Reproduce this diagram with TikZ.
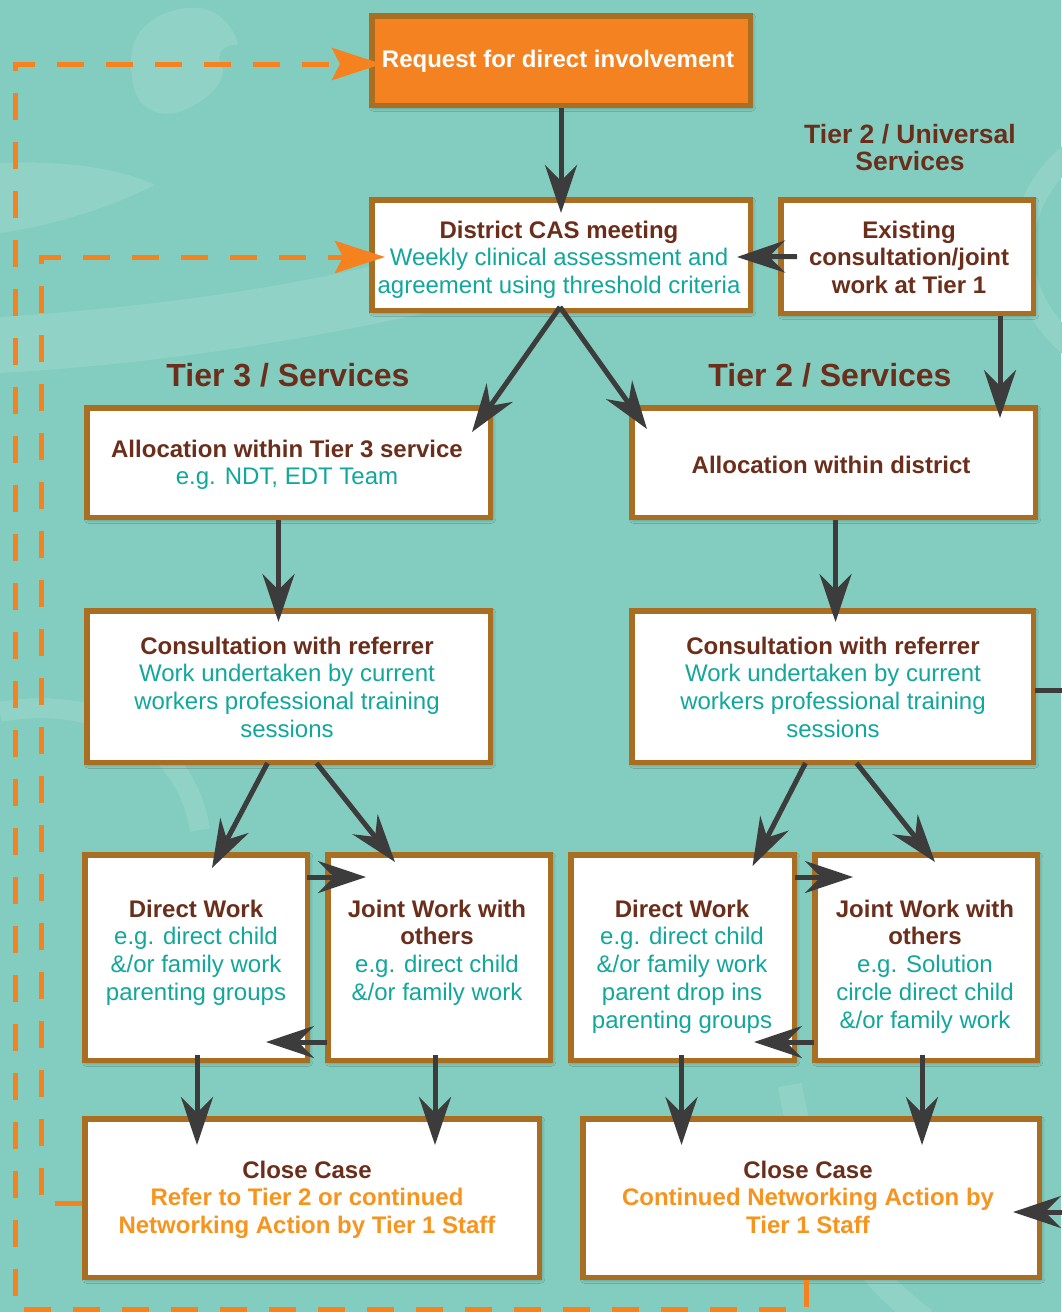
\documentclass[tikz,border=0pt]{standalone}
\usepackage{fontspec}
\setmainfont{Liberation Sans}
\usetikzlibrary{arrows.meta,calc,shadows.blur}

\definecolor{bg}{HTML}{82CDBF}
\definecolor{swirl}{HTML}{91D2C6}
\definecolor{bord}{HTML}{A96E22}
\definecolor{reqfill}{HTML}{F58220}
\definecolor{brn}{HTML}{6B2E1B}
\definecolor{tealtx}{HTML}{12A79B}
\definecolor{orgtx}{HTML}{F7941E}
\definecolor{arrgray}{HTML}{3C3C3C}
\definecolor{dashorg}{HTML}{F5821F}

% text helpers: bold brown heading line, teal detail line, orange bold line
\newcommand\bhd[1]{{\bfseries\color{brn}#1}}
\newcommand\tltx[1]{{\color{tealtx}#1}}
\newcommand\ortx[1]{{\bfseries\color{orgtx}#1}}
% \mkbox[style]{x1}{y1}{x2}{y2}{name}: box by its outer edges
\newcommand\mkbox[6][]{\node[box,#1,minimum width={(#4-#2-5.5)*1pt},minimum height={(#5-#3-5.5)*1pt}] (#6) at ({(#2+#4)/2},{(#3+#5)/2}) {};}

\begin{document}
\begin{tikzpicture}[x=1pt,y=-1pt,
  box/.style={draw=bord,fill=white,line width=5.5pt,inner sep=0pt,
    blur shadow={shadow xshift=1.5pt,shadow yshift=-2pt,shadow blur radius=4pt,shadow opacity=40}},
  % text blocks are placed by the baseline of their last line
  txt/.style={inner sep=0pt,align=center,font=\fontsize{24}{27.8}\selectfont,anchor=base},
  tierhead/.style={inner sep=0pt,align=center,anchor=base,text=brn,font=\fontsize{32}{36}\selectfont\bfseries},
  arr/.style={draw=arrgray,line width=5pt,-{Stealth[length=48pt,width=32pt,inset=16pt]}},
  link/.style={draw=arrgray,line width=5pt},
  dashlink/.style={draw=dashorg,line width=5pt,dash pattern=on 27pt off 22pt},
  dasharr/.style={dashlink,-{Stealth[length=50pt,width=32pt,inset=8pt]}},
  swirlfill/.style={fill=swirl}
]
\useasboundingbox (0,0) rectangle (1061,1312);
\fill[bg] (0,0) rectangle (1061,1312);

% faint background swirls
\fill[swirlfill] (131,62) .. controls (131,22) and (168,6) .. (200,8)
  .. controls (222,11) and (236,32) .. (238,45)
  .. controls (224,43) and (214,55) .. (222,66)
  .. controls (228,78) and (210,102) .. (176,113)
  .. controls (142,118) and (131,95) .. (131,62) -- cycle;
\fill[swirlfill] (0,163) .. controls (60,160) and (120,168) .. (155,185)
  .. controls (110,208) and (50,226) .. (0,233) -- cycle;
\fill[swirlfill] (0,317) .. controls (180,305) and (330,282) .. (480,238)
  -- (480,300) .. controls (380,325) and (200,362) .. (0,373) -- cycle;
\draw[swirl,line width=22pt] (1075,150) .. controls (1010,200) and (1000,290) .. (1075,350);
\draw[swirl,line width=20pt] (0,712) .. controls (90,695) and (185,735) .. (200,830);
\draw[swirl,line width=24pt] (790,1085) .. controls (805,1180) and (850,1265) .. (925,1320);

% boxes
\mkbox[fill=reqfill]{369}{13}{753}{108}{req}
\mkbox{369}{197}{753}{313}{cas}
\mkbox{778}{197}{1036}{316}{exist}
\mkbox{84}{405}{493}{520}{atier}
\mkbox{629}{405}{1038}{520}{adist}
\mkbox{84}{608}{493}{765}{conL}
\mkbox{629}{608}{1036}{765}{conR}
\mkbox{82}{852}{310}{1063}{dwL}
\mkbox{325}{852}{553}{1063}{jwL}
\mkbox{568}{852}{797}{1063}{dwR}
\mkbox{812}{852}{1040}{1063}{jwR}
\mkbox{82}{1116}{542}{1280}{clL}
\mkbox{580}{1116}{1042}{1280}{clR}

% box texts
\node[txt,font=\fontsize{24}{27.8}\selectfont\bfseries,text=white] (treq) at (558,67) {Request for direct involvement};
\node[txt] (tcas) at (559,293.6) {\bhd{District CAS meeting}\\\tltx{Weekly clinical assessment and}\\\tltx{agreement using threshold criteria}};
\node[txt] (texist) at (909,293.6) {\bhd{Existing}\\\bhd{consultation/joint}\\\bhd{work at Tier 1}};
\node[txt] (tatier) at (287,484.8) {\bhd{Allocation within Tier 3 service}\\\tltx{e.g. NDT, EDT Team}};
\node[txt] (tadist) at (831,473) {\bhd{Allocation within district}};
\node[txt] (tconL) at (287,737.4) {\bhd{Consultation with referrer}\\\tltx{Work undertaken by current}\\\tltx{workers professional training}\\\tltx{sessions}};
\node[txt] (tconR) at (833,737.4) {\bhd{Consultation with referrer}\\\tltx{Work undertaken by current}\\\tltx{workers professional training}\\\tltx{sessions}};
\node[txt] (tdwL) at (196,1000.4) {\bhd{Direct Work}\\\tltx{e.g. direct child}\\\tltx{\&/or family work}\\\tltx{parenting groups}};
\node[txt] (tjwL) at (437,1000.4) {\bhd{Joint Work with}\\\bhd{others}\\\tltx{e.g. direct child}\\\tltx{\&/or family work}};
\node[txt] (tdwR) at (682,1028.2) {\bhd{Direct Work}\\\tltx{e.g. direct child}\\\tltx{\&/or family work}\\\tltx{parent drop ins}\\\tltx{parenting groups}};
\node[txt] (tjwR) at (925,1028.2) {\bhd{Joint Work with}\\\bhd{others}\\\tltx{e.g. Solution}\\\tltx{circle direct child}\\\tltx{\&/or family work}};
\node[txt] (tclL) at (307,1233.6) {\bhd{Close Case}\\\ortx{Refer to Tier 2 or continued}\\\ortx{Networking Action by Tier 1 Staff}};
\node[txt] (tclR) at (808,1233.6) {\bhd{Close Case}\\\ortx{Continued Networking Action by}\\\ortx{Tier 1 Staff}};

% tier headings
\node[tierhead] (h3) at (288,386.5) {Tier 3 / Services};
\node[tierhead] (h2) at (830,386.5) {Tier 2 / Services};
\node[tierhead,font=\fontsize{26.5}{27.4}\selectfont\bfseries] (h2u) at (910,170.7) {Tier 2 / Universal\\Services};

% solid connectors
\draw[arr] (req.south) -- ($(cas.north)+(0,16)$);
\draw[arr] ($(exist.west)+(19,0)$) -- ($(cas.east)+(-16,2)$);
\draw[arr] ($(cas.south)+(-1,-6)$) -- ($(atier.north east)+(-21,27)$);
\draw[arr] ($(cas.south)+(-1,-6)$) -- ($(adist.north west)+(18,24)$);
\draw[arr] ($(exist.south)+(93,0)$) -- ($(exist.south |- adist.north)+(93,13)$);
\draw[arr] ($(atier.south)+(-10,0)$) -- ($(atier.south |- conL.north)+(-10,14)$);
\draw[arr] ($(adist.south)+(2,0)$) -- ($(adist.south |- conR.north)+(2,14)$);
\draw[arr] ($(conL.south)+(-21,-2)$) -- ($(dwL.north)+(16,16)$);
\draw[arr] ($(conL.south)+(28,-2)$) -- ($(jwL.north)+(-44,10)$);
\draw[arr] ($(conR.south)+(-27,-2)$) -- ($(dwR.north)+(70,14)$);
\draw[arr] ($(conR.south)+(24,-2)$) -- ($(jwR.north)+(9,10)$);
\draw[arr] ($(dwL.north east)+(-3,25)$) -- ($(jwL.north west)+(41,25)$);
\draw[arr] ($(jwL.south west)+(2,-21)$) -- ($(dwL.south east)+(-44,-21)$);
\draw[arr] ($(dwR.north east)+(-2,25)$) -- ($(jwR.north west)+(41,25)$);
\draw[arr] ($(jwR.south west)+(2,-21)$) -- ($(dwR.south east)+(-43,-21)$);
\draw[arr] ($(dwL.south)+(1,-8)$) -- ($(dwL.south |- clL.north)+(1,29)$);
\draw[arr] ($(jwL.south)+(-4,-8)$) -- ($(jwL.south |- clL.north)+(-4,29)$);
\draw[arr] ($(dwR.south)+(-1,-8)$) -- ($(dwR.south |- clR.north)+(-1,29)$);
\draw[arr] ($(jwR.south)+(-4,-8)$) -- ($(jwR.south |- clR.north)+(-4,29)$);
\coordinate (offA) at (1075,690);
\coordinate (offB) at (1075,1212);
\draw[link] ($(conR.east)+(-1,3.5)$) -- (offA);
\draw[arr] (offB) -- ($(clR.east)+(-29,14)$);

% dashed return loops
\coordinate (outerBR) at (806,1309);
\coordinate (outerBL) at (15,1309);
\coordinate (outerTL) at (15,64);
\draw[dasharr] ($(clR.south)+(-5,0)$) -- (outerBR) -- (outerBL) -- (outerTL) -- ($(req.west)+(13,3.5)$);
\coordinate (innerB) at (41,1203);
\coordinate (innerT) at (41,257);
\draw[dasharr] ($(clL.west)+(0,5)$) -- (innerB) -- (innerT) -- ($(cas.west)+(16,2)$);
\end{tikzpicture}
\end{document}
